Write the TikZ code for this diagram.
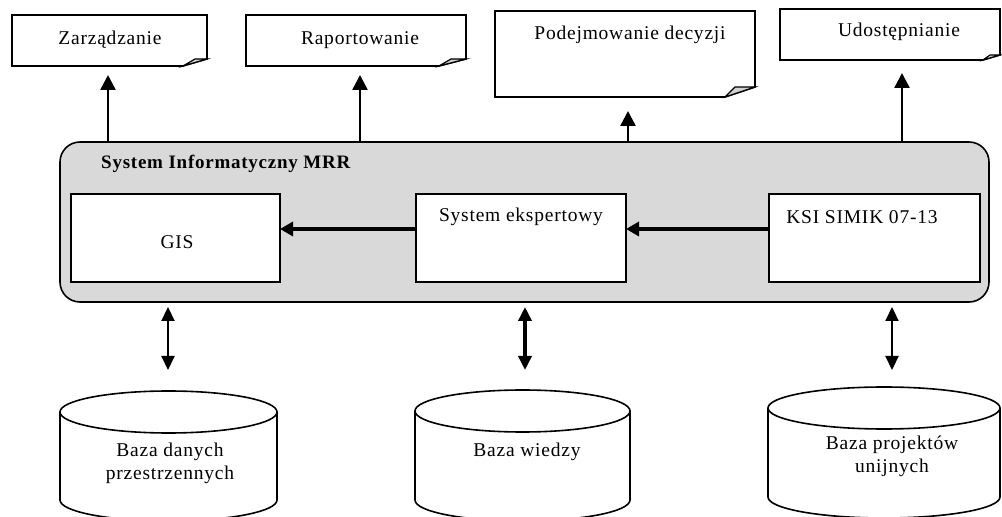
\documentclass[tikz,border=0pt]{standalone}
\usepackage{fontspec}
\setmainfont[LetterSpace=4]{Liberation Serif}
\usetikzlibrary{arrows.meta}
\newcommand\dbcyl[5]{%
  \draw[cylline] (#1-#3,#2) -- (#1-#3,#5) arc[start angle=180,end angle=360,x radius=#3,y radius=#4] -- (#1+#3,#2);
  \draw[cylline] (#1,#2) ellipse[x radius=#3,y radius=#4];
}
\begin{document}
\begin{tikzpicture}[x=1pt,y=1pt,
  font=\fontsize{19.5}{23}\selectfont,
  docbox/.style={draw=none,inner sep=0,outer sep=0},
  docline/.style={draw=black,line width=1.6pt,fill=white,line join=miter},
  fold/.style={draw=black,line width=1.2pt,fill=black!18},
  sysbox/.style={draw=black,line width=1.6pt,fill=black!15,rounded corners=20pt,inner sep=0,outer sep=0},
  inbox/.style={draw=black,line width=1.6pt,fill=white,inner sep=0,outer sep=0,minimum height=88pt},
  cylline/.style={draw=black,line width=1.6pt},
  cylbox/.style={draw=none,inner sep=0,outer sep=0},
  lbl/.style={inner sep=0},
  uparrow/.style={line width=2.5pt,-{Triangle[length=15pt,width=15pt]}},
  harrow/.style={line width=4pt,-{Triangle[length=13pt,width=14pt]}},
  dblarrow/.style={line width=2.2pt,{Triangle[length=14pt,width=13pt]}-{Triangle[length=14pt,width=13pt]}},
]
\useasboundingbox (0,0) rectangle (1002,517);
\clip (0,0) rectangle (1002,517);

% top document boxes
\node[docbox,minimum width=195pt,minimum height=51pt] (zar) at (109.5,476.5) {};
\node[docbox,minimum width=220pt,minimum height=51pt] (rap) at (356,476.5) {};
\node[docbox,minimum width=260pt,minimum height=86pt] (pod) at (625,463) {};
\node[docbox,minimum width=220pt,minimum height=51pt] (udo) at (890,482.5) {};

\draw[docline] (zar.north west) -- (zar.north east) -- ([yshift=7pt]zar.south east) -- ([xshift=-24pt]zar.south east) -- (zar.south west) -- cycle;
\filldraw[fold] ([xshift=-24pt]zar.south east) -- ([xshift=-12pt,yshift=7pt]zar.south east) -- ([yshift=7pt]zar.south east) -- cycle;
\draw[docline] (rap.north west) -- (rap.north east) -- ([yshift=7pt]rap.south east) -- ([xshift=-27pt]rap.south east) -- (rap.south west) -- cycle;
\filldraw[fold] ([xshift=-27pt]rap.south east) -- ([xshift=-15pt,yshift=7pt]rap.south east) -- ([yshift=7pt]rap.south east) -- cycle;
\draw[docline] (pod.north west) -- (pod.north east) -- ([yshift=10pt]pod.south east) -- ([xshift=-30pt]pod.south east) -- (pod.south west) -- cycle;
\filldraw[fold] ([xshift=-30pt]pod.south east) -- ([xshift=-20pt,yshift=10pt]pod.south east) -- ([yshift=10pt]pod.south east) -- cycle;
\draw[docline] (udo.north west) -- (udo.north east) -- ([yshift=5pt]udo.south east) -- ([xshift=-17pt]udo.south east) -- (udo.south west) -- cycle;
\filldraw[fold] ([xshift=-17pt]udo.south east) -- ([xshift=-10pt,yshift=5pt]udo.south east) -- ([yshift=5pt]udo.south east) -- cycle;

\node[lbl] (zart) at (110,477) {Zarządzanie};
\node[lbl] (rapt) at (360,477) {Raportowanie};
\node[lbl] (podt) at (630,482) {Podejmowanie decyzji};
\node[lbl] (udot) at (899,485) {Udostępnianie};

% system box
\node[sysbox,minimum width=929pt,minimum height=160pt] (sys) at (524.5,295) {};
\node[lbl,anchor=west,font=\fontsize{19}{23}\selectfont\bfseries] (systitle) at (101,353) {System Informatyczny MRR};

\node[inbox,minimum width=209pt] (gis) at (175.5,279) {};
\node[inbox,minimum width=210pt] (eks) at (521,279) {};
\node[inbox,minimum width=211pt] (ksi) at (874.5,279) {};
\node[lbl] (gist) at (177,275) {GIS};
\node[lbl] (ekst) at (521,300) {System ekspertowy};
\node[lbl] (ksit) at (862,300) {KSI SIMIK 07-13};

\draw[harrow] ([yshift=9pt]eks.west) -- ([yshift=9pt]gis.east);
\draw[harrow] ([yshift=9pt]ksi.west) -- ([yshift=9pt]eks.east);

% arrow x positions
\coordinate (x1) at (108,0);
\coordinate (x2) at (360,0);
\coordinate (x3) at (628,0);
\coordinate (x4) at (902,0);
\coordinate (x5) at (168,0);
\coordinate (x6) at (525,0);
\coordinate (x7) at (892,0);

\draw[uparrow,shorten >=9pt] (sys.north -| x1) -- (zar.south -| x1);
\draw[uparrow,shorten >=9pt] (sys.north -| x2) -- (rap.south -| x2);
\draw[uparrow,shorten >=14pt] (sys.north -| x3) -- (pod.south -| x3);
\draw[uparrow,shorten >=13pt] (sys.north -| x4) -- (udo.south -| x4);

% databases
\node[cylbox,minimum width=217pt,minimum height=127pt] (db1) at (168.5,63.5) {};
\node[cylbox,minimum width=215pt,minimum height=128pt] (db2) at (522.5,64) {};
\node[cylbox,minimum width=232pt,minimum height=130pt] (db3) at (884,65) {};
\dbcyl{168.5}{105}{108.5}{21}{17}
\dbcyl{522.5}{106}{107.5}{21}{17}
\dbcyl{884}{109}{116}{21}{20}
\node[lbl,align=center] (db1t) at (170,54) {Baza danych\\przestrzennych};
\node[lbl] (db2t) at (527,65) {Baza wiedzy};
\node[lbl,align=center] (db3t) at (892,61) {Baza projektów\\unijnych};

\draw[dblarrow,shorten <=5pt,shorten >=20pt] (sys.south -| x5) -- (db1.north -| x5);
\draw[dblarrow,line width=4pt,shorten <=5pt,shorten >=19pt] (sys.south -| x6) -- (db2.north -| x6);
\draw[dblarrow,shorten <=5pt,shorten >=17pt] (sys.south -| x7) -- (db3.north -| x7);
\end{tikzpicture}
\end{document}
